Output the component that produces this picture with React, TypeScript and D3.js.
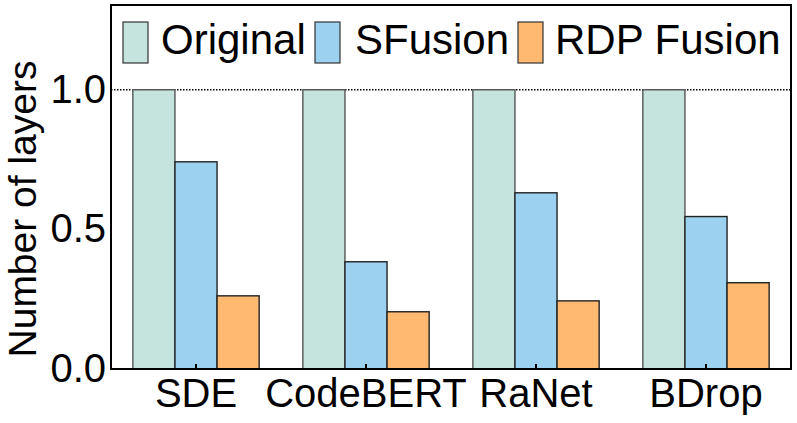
import React from "react";
import * as d3 from "d3";

const categories = ["SDE", "CodeBERT", "RaNet", "BDrop"];
const seriesNames = ["Original", "SFusion", "RDP Fusion"];
const originalValues = [1.0, 1.0, 1.0, 1.0];
const sfusionValues = [0.742, 0.384, 0.631, 0.546];
const rdpValues = [0.262, 0.205, 0.244, 0.309];
const yTicks = [0.0, 0.5, 1.0];
const colors = ["#C5E4DD", "#9CD1F0", "#FFB971"];

const W = 797;
const H = 423;
const left = 111;
const right = 791;
const top = 5;
const bottom = 369;

export default function App() {
  const seriesValues = [originalValues, sfusionValues, rdpValues];
  const x = d3
    .scaleBand<string>()
    .domain(categories)
    .range([left, right])
    .paddingInner(0.257)
    .paddingOuter(0.1285);
  const xSub = d3
    .scaleBand<string>()
    .domain(seriesNames)
    .range([0, x.bandwidth()]);
  const y = d3.scaleLinear().domain([0, 1.3]).range([bottom, top + 1]);

  const legendRectX = [123, 315, 518];
  const legendTextX = [161, 355, 555];

  return (
    <svg
      width={W}
      height={H}
      style={{ position: "absolute", left: 0, top: 0, fontFamily: "'Liberation Sans', Arial, sans-serif" }}
    >
      <rect x={0} y={0} width={W} height={H} fill="#fff" />
      {/* dotted reference line at 1.0 */}
      <line
        x1={left}
        x2={right}
        y1={y(1)}
        y2={y(1)}
        stroke="#000"
        strokeWidth={1.6}
        strokeDasharray="1.5,1.5"
      />
      {/* bars */}
      {categories.map((c, i) => (
        <g key={c} transform={`translate(${x(c)},0)`}>
          {seriesNames.map((s, j) => {
            const v = seriesValues[j][i];
            return (
              <rect
                key={s}
                x={xSub(s)}
                y={y(v)}
                width={xSub.bandwidth()}
                height={y(0) - y(v)}
                fill={colors[j]}
                stroke={j === 0 ? "#555" : "#222"}
                strokeWidth={1.4}
              />
            );
          })}
        </g>
      ))}
      {/* x ticks (inward) */}
      {categories.map((c) => {
        const cx = (x(c) as number) + x.bandwidth() / 2;
        return <line key={c} x1={cx} x2={cx} y1={bottom} y2={bottom - 5} stroke="#000" strokeWidth={2} />;
      })}
      {/* frame */}
      <rect
        x={left}
        y={top}
        width={right - left}
        height={bottom - top}
        fill="none"
        stroke="#000"
        strokeWidth={2}
      />
      {/* y tick labels */}
      {yTicks.map((t) => (
        <text key={t} x={106} y={y(t) + 13} textAnchor="end" fontSize={40} fill="#000">
          {d3.format(".1f")(t)}
        </text>
      ))}
      {/* x labels */}
      {categories.map((c) => (
        <text
          key={c}
          x={(x(c) as number) + x.bandwidth() / 2}
          y={407}
          textAnchor="middle"
          fontSize={40}
          fill="#000"
        >
          {c}
        </text>
      ))}
      {/* y title */}
      <text
        transform={`translate(36,${(top + bottom) / 2 + 22}) rotate(-90)`}
        textAnchor="middle"
        fontSize={39}
        fill="#000"
      >
        Number of layers
      </text>
      {/* legend */}
      {seriesNames.map((s, j) => (
        <g key={s}>
          <rect
            x={legendRectX[j]}
            y={22}
            width={25}
            height={41}
            fill={colors[j]}
            stroke="#333"
            strokeWidth={1.2}
          />
          <text x={legendTextX[j]} y={54} fontSize={42} fill="#000">
            {s}
          </text>
        </g>
      ))}
    </svg>
  );
}
